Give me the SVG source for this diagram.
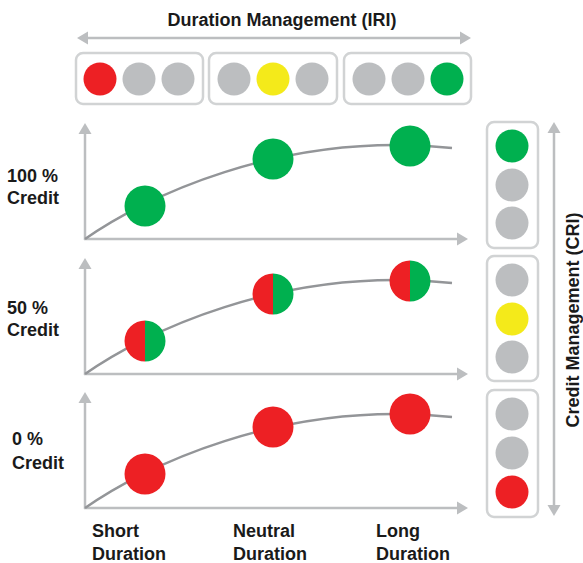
<svg xmlns="http://www.w3.org/2000/svg" width="583" height="563" viewBox="0 0 583 563">
  <style>
    .lbl { font-family: "Liberation Sans", Arial, sans-serif; font-weight: bold; font-size: 18px; fill: #1a1a1a; }
    .ax { stroke: #bcbec0; stroke-width: 2.5; fill: none; }
    .curve { stroke: #939598; stroke-width: 2.5; fill: none; }
    .box { fill: #ffffff; stroke: #d1d3d4; stroke-width: 2.5; }
    .gray { fill: #bcbec0; }
    .red { fill: #ed2024; }
    .green { fill: #00b04f; }
    .yellow { fill: #f4ea1a; }
  </style>
  <defs>
    <marker id="ah" markerUnits="userSpaceOnUse" markerWidth="14" markerHeight="14" refX="0" refY="0" orient="auto-start-reverse" overflow="visible">
      <path d="M0,-6.5 L11,0 L0,6.5 Z" fill="#bcbec0"/>
    </marker>
    <g id="halfdot">
      <path d="M0,-20.5 A20.5,20.5 0 0 0 0,20.5 Z" fill="#ed2024"/>
      <path d="M0,-20.5 A20.5,20.5 0 0 1 0,20.5 Z" fill="#00b04f"/>
    </g>
  </defs>

  <text class="lbl" x="282" y="26" text-anchor="middle">Duration Management (IRI)</text>
  <text class="lbl" transform="translate(578.5,320) rotate(-90)" text-anchor="middle">Credit Management (CRI)</text>

  <g id="connectors">
    <line class="ax" x1="88" y1="38" x2="460" y2="38" marker-start="url(#ah)" marker-end="url(#ah)"/>
    <line class="ax" x1="554" y1="133" x2="554" y2="505" marker-start="url(#ah)" marker-end="url(#ah)"/>
  </g>

  <g id="iri-short">
    <rect class="box" x="76" y="53" width="127" height="51" rx="7"/>
    <circle class="red" cx="100" cy="79" r="16.5"/>
    <circle class="gray" cx="139" cy="79" r="16.5"/>
    <circle class="gray" cx="178" cy="79" r="16.5"/>
  </g>
  <g id="iri-neutral">
    <rect class="box" x="209" y="53" width="128" height="51" rx="7"/>
    <circle class="gray" cx="234" cy="79" r="16.5"/>
    <circle class="yellow" cx="273" cy="79" r="16.5"/>
    <circle class="gray" cx="312" cy="79" r="16.5"/>
  </g>
  <g id="iri-long">
    <rect class="box" x="344" y="53" width="127" height="51" rx="7"/>
    <circle class="gray" cx="369" cy="79" r="16.5"/>
    <circle class="gray" cx="408" cy="79" r="16.5"/>
    <circle class="green" cx="447" cy="79" r="16.5"/>
  </g>

  <g id="cri-100">
    <rect class="box" x="487" y="122" width="51" height="126" rx="7"/>
    <circle class="green" cx="512" cy="146" r="16.5"/>
    <circle class="gray" cx="512" cy="185" r="16.5"/>
    <circle class="gray" cx="512" cy="223" r="16.5"/>
  </g>
  <g id="cri-50">
    <rect class="box" x="487" y="256" width="51" height="125" rx="7"/>
    <circle class="gray" cx="512" cy="280" r="16.5"/>
    <circle class="yellow" cx="512" cy="319" r="16.5"/>
    <circle class="gray" cx="512" cy="357" r="16.5"/>
  </g>
  <g id="cri-0">
    <rect class="box" x="487" y="390" width="51" height="127" rx="7"/>
    <circle class="gray" cx="512" cy="414" r="16.5"/>
    <circle class="gray" cx="512" cy="453" r="16.5"/>
    <circle class="red" cx="512" cy="492" r="16.5"/>
  </g>

  <g id="chart-100">
    <line class="ax" x1="85" y1="240" x2="85" y2="134" marker-end="url(#ah)"/>
    <line class="ax" x1="84" y1="239" x2="457" y2="239" marker-end="url(#ah)"/>
    <path class="curve" d="M85,239 C140,200 280,130 452,148"/>
    <circle class="green" cx="145" cy="206" r="20.5"/>
    <circle class="green" cx="273" cy="159" r="20.5"/>
    <circle class="green" cx="410" cy="146" r="20.5"/>
    <text class="lbl" x="7" y="182">100 %</text>
    <text class="lbl" x="7" y="204">Credit</text>
  </g>

  <g id="chart-50" transform="translate(0,135)">
    <line class="ax" x1="85" y1="240" x2="85" y2="134" marker-end="url(#ah)"/>
    <line class="ax" x1="84" y1="239" x2="457" y2="239" marker-end="url(#ah)"/>
    <path class="curve" d="M85,239 C140,200 280,130 452,148"/>
    <use href="#halfdot" x="145" y="206"/>
    <use href="#halfdot" x="273" y="159"/>
    <use href="#halfdot" x="410" y="146"/>
    <text class="lbl" x="7" y="179">50 %</text>
    <text class="lbl" x="7" y="201">Credit</text>
  </g>

  <g id="chart-0" transform="translate(0,269)">
    <line class="ax" x1="85" y1="240" x2="85" y2="134" marker-end="url(#ah)"/>
    <line class="ax" x1="84" y1="239" x2="457" y2="239" marker-end="url(#ah)"/>
    <path class="curve" d="M85,239 C140,200 280,130 452,148"/>
    <circle class="red" cx="145" cy="205" r="20.5"/>
    <circle class="red" cx="273" cy="158" r="20.5"/>
    <circle class="red" cx="410" cy="145" r="20.5"/>
    <text class="lbl" x="12" y="176">0 %</text>
    <text class="lbl" x="12" y="200">Credit</text>
  </g>

  <g id="x-labels">
    <text class="lbl" x="92" y="537">Short</text>
    <text class="lbl" x="92" y="560">Duration</text>
    <text class="lbl" x="233" y="537">Neutral</text>
    <text class="lbl" x="233" y="560">Duration</text>
    <text class="lbl" x="376" y="537">Long</text>
    <text class="lbl" x="376" y="560">Duration</text>
  </g>
</svg>
